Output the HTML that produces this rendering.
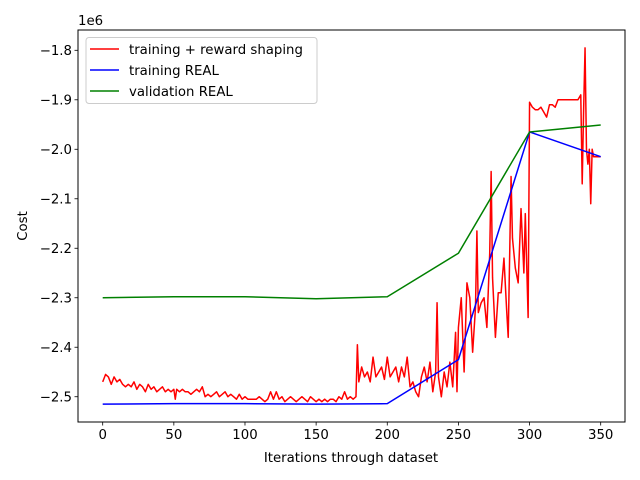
<!DOCTYPE html>
<html><head><meta charset="utf-8"><style>body{margin:0;background:#fff}svg{display:block;font-family:"DejaVu Sans","Liberation Sans",sans-serif}</style></head>
<body>
<svg id="chart" width="640" height="480"></svg>
<script>
const xTicks=[0,50,100,150,200,250,300,350];
const yTicks=[-1.8,-1.9,-2.0,-2.1,-2.2,-2.3,-2.4,-2.5];
const yTickLabels=["−1.8","−1.9","−2.0","−2.1","−2.2","−2.3","−2.4","−2.5"];
const greenX=[0,50,100,150,200,250,300,350];
const greenY=[-2.30,-2.298,-2.298,-2.302,-2.298,-2.21,-1.965,-1.951];
const blueX=[0,50,100,150,200,250,300,350];
const blueY=[-2.515,-2.514,-2.514,-2.515,-2.514,-2.425,-1.965,-2.015];
const redX=[0,2,4,6,8,10,12,14,16,18,20,22,24,26,28,30,32,34,36,38,40,42,44,46,48,50,51,52,54,56,58,60,62,64,66,68,70,72,74,76,78,80,82,84,86,88,90,92,94,96,98,100,102,104,106,108,110,112,114,116,118,120,122,124,126,128,130,132,134,136,138,140,142,144,146,148,150,152,154,156,158,160,162,164,166,168,170,172,174,176,178,179,180,182,184,186,188,190,192,194,196,198,200,202,204,206,208,210,212,214,216,218,220,222,224,226,228,230,232,234,235,236,238,240,242,244,246,248,249,250,252,254,256,258,260,262,263,264,266,268,270,272,273,274,276,278,280,282,284,285,287,288,290,292,294,296,297,299,300,302,304,306,308,310,312,314,316,318,320,322,324,326,328,330,332,334,336,337,338,339,340,341,342,343,344,345,350];
const redY=[-2.47,-2.455,-2.46,-2.475,-2.46,-2.47,-2.465,-2.475,-2.48,-2.475,-2.48,-2.47,-2.485,-2.475,-2.48,-2.49,-2.475,-2.485,-2.48,-2.49,-2.485,-2.48,-2.49,-2.485,-2.49,-2.485,-2.505,-2.485,-2.49,-2.485,-2.49,-2.49,-2.495,-2.49,-2.485,-2.49,-2.48,-2.5,-2.495,-2.5,-2.495,-2.49,-2.5,-2.495,-2.49,-2.5,-2.495,-2.5,-2.505,-2.495,-2.505,-2.5,-2.505,-2.505,-2.505,-2.505,-2.5,-2.505,-2.51,-2.505,-2.49,-2.505,-2.49,-2.505,-2.5,-2.51,-2.505,-2.5,-2.505,-2.51,-2.505,-2.5,-2.505,-2.51,-2.5,-2.505,-2.51,-2.505,-2.51,-2.505,-2.51,-2.505,-2.505,-2.51,-2.5,-2.505,-2.49,-2.505,-2.5,-2.505,-2.5,-2.395,-2.47,-2.44,-2.46,-2.45,-2.47,-2.42,-2.46,-2.45,-2.44,-2.465,-2.42,-2.46,-2.45,-2.44,-2.47,-2.44,-2.46,-2.42,-2.48,-2.47,-2.49,-2.5,-2.46,-2.44,-2.47,-2.43,-2.49,-2.45,-2.31,-2.46,-2.5,-2.45,-2.48,-2.43,-2.48,-2.37,-2.49,-2.36,-2.3,-2.45,-2.27,-2.3,-2.41,-2.32,-2.165,-2.33,-2.31,-2.3,-2.36,-2.21,-2.045,-2.26,-2.38,-2.29,-2.29,-2.22,-2.33,-2.38,-2.055,-2.18,-2.24,-2.27,-2.12,-2.25,-2.13,-2.34,-1.905,-1.915,-1.92,-1.92,-1.915,-1.925,-1.935,-1.91,-1.91,-1.915,-1.9,-1.9,-1.9,-1.9,-1.9,-1.9,-1.9,-1.9,-1.89,-2.07,-1.92,-1.795,-2.0,-2.03,-2.0,-2.11,-2.0,-2.015,-2.015];

const NS="http://www.w3.org/2000/svg";
const svg=document.getElementById('chart');
const L=78,R=625,T=30,B=422;
function sx(v){return 102.7+v*(600.7-102.7)/350;}
function sy(v){return 50.3+(-1.8-v)*494.9;}
function mk(tag,attrs,parent){const e=document.createElementNS(NS,tag);for(const k in attrs)e.setAttribute(k,attrs[k]);(parent||svg).appendChild(e);return e;}

const clip=mk('clipPath',{id:'cp'});mk('rect',{x:L,y:T,width:R-L,height:B-T},clip);
const plot=mk('g',{'clip-path':'url(#cp)'});


function line(xs,ys,color,name){
  const p=mk('polyline',{points:xs.map((x,i)=>sx(x).toFixed(2)+','+sy(ys[i]).toFixed(2)).join(' '),fill:'none',stroke:color,'stroke-width':1.5,'stroke-linejoin':'round'},plot);
  
  
}
line(redX,redY,'#ff0000','training-reward-shaping-line');
line(blueX,blueY,'#0000ff','training-real-line');
line(greenX,greenY,'#008000','validation-real-line');

const frame=mk('rect',{x:L,y:T,width:R-L,height:B-T,fill:'none',stroke:'#000','stroke-width':1});



xTicks.forEach(t=>{
  const x=sx(t);
  mk('line',{x1:x,x2:x,y1:B,y2:B+3.5,stroke:'#000','stroke-width':0.8});
  const tx=mk('text',{x:x,y:B+17,'font-size':'13.3','text-anchor':'middle',fill:'#000'});
  tx.textContent=t;
  
  
});
yTicks.forEach((t,i)=>{
  const y=sy(t);
  mk('line',{x1:L-3.5,x2:L,y1:y,y2:y,stroke:'#000','stroke-width':0.8});
  const tx=mk('text',{x:L-6,y:y+4.8,'font-size':'13.3','text-anchor':'end',fill:'#000'});
  tx.textContent=yTickLabels[i];
  
  
});
</script>
<svg width="640" height="480" style="position:absolute;left:0;top:0">
<text x="78" y="25" font-size="13.3" font-family="DejaVu Sans, Liberation Sans, sans-serif">1e6</text>
<text x="351" y="462" font-size="13.3" text-anchor="middle" font-family="DejaVu Sans, Liberation Sans, sans-serif">Iterations through dataset</text>
<text transform="translate(27,226) rotate(-90)" font-size="13.3" text-anchor="middle" font-family="DejaVu Sans, Liberation Sans, sans-serif">Cost</text>
<g font-family="DejaVu Sans, Liberation Sans, sans-serif" font-size="13.3">
<rect x="86" y="37.5" width="231" height="66" rx="3" fill="#fff" fill-opacity="0.8" stroke="#ccc"/>
<line x1="90" y1="49" x2="119" y2="49" stroke="#ff0000" stroke-width="1.5"/>
<text x="129" y="54">training + reward shaping</text>
<line x1="90" y1="70" x2="119" y2="70" stroke="#0000ff" stroke-width="1.5"/>
<text x="129" y="75">training REAL</text>
<line x1="90" y1="91" x2="119" y2="91" stroke="#008000" stroke-width="1.5"/>
<text x="129" y="96">validation REAL</text>
</g>
</svg>
</body></html>
